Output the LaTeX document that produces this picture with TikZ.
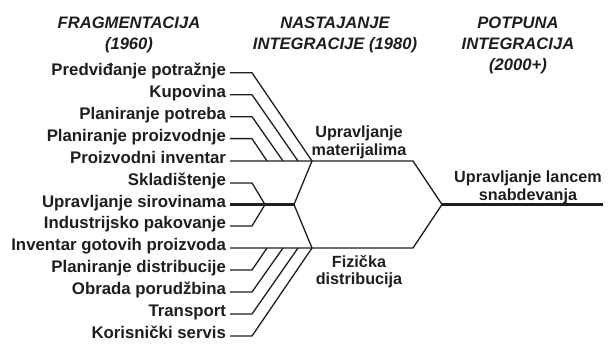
\documentclass[tikz,border=0pt]{standalone}
\usepackage{fontspec}
\setmainfont{Liberation Sans}
\definecolor{ink}{HTML}{1E1E1E}
\begin{document}
\begin{tikzpicture}[x=1pt,y=-1pt,
  lbl/.style={anchor=mid east, inner sep=0pt, outer xsep=4pt, font=\bfseries\fontsize{16.8}{20}\selectfont, text=ink},
  hdr/.style={anchor=north, align=center, inner sep=0pt, font=\bfseries\itshape\fontsize{16.6}{21}\selectfont, text=ink},
  midlbl/.style={anchor=north, align=center, inner sep=0pt, font=\bfseries\fontsize{16.2}{17.5}\selectfont, text=ink},
  ln/.style={draw=ink, line width=1.3pt, line join=miter},
  thk/.style={draw=ink, line width=2.4pt}]
\useasboundingbox (0,0) rectangle (608,343);

% headers
\node[hdr] (h1) at (129,17) {FRAGMENTACIJA\\(1960)};
\node[hdr] (h2) at (335,17) {NASTAJANJE\\INTEGRACIJE (1980)};
\node[hdr] (h3) at (518,17) {POTPUNA\\INTEGRACIJA\\(2000+)};

% left labels
\node[lbl] (p0) at (230,72.8) {Predviđanje potražnje};
\node[lbl] (p1) at (230,94.7) {Kupovina};
\node[lbl] (p2) at (230,116.7) {Planiranje potreba};
\node[lbl] (p3) at (230,138.6) {Planiranje proizvodnje};
\node[lbl] (p4) at (230,161) {Proizvodni inventar};
\node[lbl] (p5) at (230,183) {Skladištenje};
\node[lbl] (p6) at (230,204.5) {Upravljanje sirovinama};
\node[lbl] (p7) at (230,226) {Industrijsko pakovanje};
\node[lbl] (p8) at (230,248) {Inventar gotovih proizvoda};
\node[lbl] (p9) at (230,270) {Planiranje distribucije};
\node[lbl] (p10) at (230,292) {Obrada porudžbina};
\node[lbl] (p11) at (230,314) {Transport};
\node[lbl] (p12) at (230,336) {Korisnički servis};

% middle and right labels
\node[midlbl] (m) at (359,126) {Upravljanje\\materijalima};
\node[midlbl] (f) at (359,255) {Fizička\\distribucija};
\node[midlbl] (sc) at (528,171) {Upravljanje lancem\\snabdevanja};

% coordinates
\coordinate (b0) at (252,72.8);
\coordinate (b1) at (252,94.7);
\coordinate (b2) at (252,116.7);
\coordinate (b3) at (252,138.6);
\coordinate (b5) at (252,183);
\coordinate (b7) at (252,226);
\coordinate (b9) at (252,270);
\coordinate (b10) at (252,292);
\coordinate (b11) at (252,314);
\coordinate (b12) at (252,336);
\coordinate (t0) at (312,161);
\coordinate (t1) at (298,161);
\coordinate (t2) at (283,161);
\coordinate (t3) at (267,161);
\coordinate (u9) at (267,248);
\coordinate (u10) at (283,248);
\coordinate (u11) at (298,248);
\coordinate (u12) at (312,248);
\coordinate (k) at (265,204.5);
\coordinate (S) at (294,204.5);
\coordinate (m1) at (413,161);
\coordinate (m2) at (413,248);
\coordinate (J) at (442,204.5);
\coordinate (E) at (603,204.5);

% connectors
\draw[ln] (p0.mid east) -- (b0) -- (t0);
\draw[ln] (p1.mid east) -- (b1) -- (t1);
\draw[ln] (p2.mid east) -- (b2) -- (t2);
\draw[ln] (p3.mid east) -- (b3) -- (t3);
\draw[ln] (p4.mid east) -- (m1) -- (J);
\draw[ln] (p5.mid east) -- (b5) -- (k);
\draw[ln] (p7.mid east) -- (b7) -- (k);
\draw[thk] (p6.mid east) -- (S);
\draw[ln] (t0) -- (S) -- (u12);
\draw[ln] (p8.mid east) -- (m2) -- (J);
\draw[ln] (p9.mid east) -- (b9) -- (u9);
\draw[ln] (p10.mid east) -- (b10) -- (u10);
\draw[ln] (p11.mid east) -- (b11) -- (u11);
\draw[ln] (p12.mid east) -- (b12) -- (u12);
\draw[thk] (J) -- (E);
\end{tikzpicture}
\end{document}
